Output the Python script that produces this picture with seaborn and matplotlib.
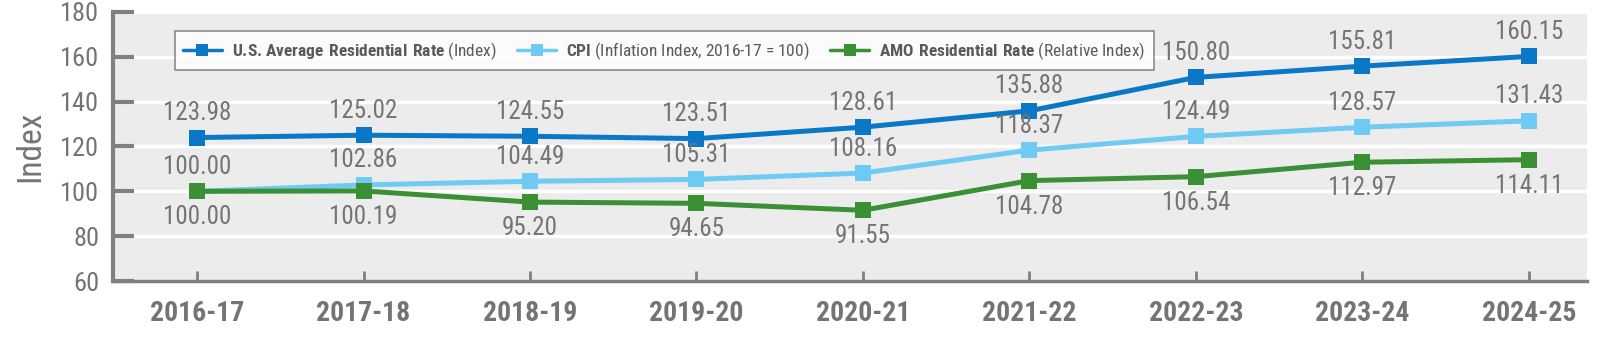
import matplotlib
matplotlib.use("Agg")
import matplotlib.pyplot as plt
import seaborn as sns
import pandas as pd
from matplotlib import font_manager

years = ["2016-17", "2017-18", "2018-19", "2019-20", "2020-21", "2021-22", "2022-23", "2023-24", "2024-25"]
us_rate = [123.98, 125.02, 124.55, 123.51, 128.61, 135.88, 150.80, 155.81, 160.15]
cpi = [100.00, 102.86, 104.49, 105.31, 108.16, 118.37, 124.49, 128.57, 131.43]
amo_rate = [100.00, 100.19, 95.20, 94.65, 91.55, 104.78, 106.54, 112.97, 114.11]
y_ticks = [60, 80, 100, 120, 140, 160, 180]

sns.set_theme(style="white")
names = {f.name for f in font_manager.fontManager.ttflist}
fam = "Roboto Condensed" if "Roboto Condensed" in names else "Roboto"
plt.rcParams['font.family'] = [fam, 'DejaVu Sans']
plt.rcParams['mathtext.fontset'] = 'custom'
plt.rcParams['mathtext.bf'] = f'{fam}:bold'
plt.rcParams['mathtext.rm'] = fam

GRAY = "#747474"
DARK = "#5a5a5a"
SPINE = "#808080"
BLUE = "#0a78c6"
LBLUE = "#6fcbf3"
GREEN = "#3b8f34"

fig = plt.figure(figsize=(16, 3.5), dpi=100)
ax = fig.add_axes([0.0706, 0.197, 0.9214, 0.769])
ax.set_facecolor("#ebeceb")

rows = []
series = [
    (r"$\bf{U.\!S.\!\!\ Average\ Residential\ Rate}$ (Index)", us_rate),
    (r"$\bf{CPI}$ (Inflation Index, 2016-17 = 100)", cpi),
    (r"$\bf{AMO\ Residential\ Rate}$ (Relative Index)", amo_rate),
]
for name, vals in series:
    for i, v in enumerate(vals):
        rows.append({"x": i, "value": v, "series": name})
df = pd.DataFrame(rows)
palette = {series[0][0]: BLUE, series[1][0]: LBLUE, series[2][0]: GREEN}

for y in y_ticks:
    ax.axhline(y, color="white", lw=2.5, zorder=0)

sns.lineplot(data=df, x="x", y="value", hue="series", palette=palette,
             marker="s", markersize=12, markeredgewidth=0, linewidth=3.6,
             ax=ax, zorder=3)

LBL = 18
for i, v in enumerate(us_rate):
    ax.annotate(f"{v:.2f}", (i, v), xytext=(0, 9), textcoords="offset points",
                ha="center", va="bottom", fontsize=LBL, color=GRAY)
for i, v in enumerate(cpi):
    ax.annotate(f"{v:.2f}", (i, v), xytext=(0, 9), textcoords="offset points",
                ha="center", va="bottom", fontsize=LBL, color=GRAY)
for i, v in enumerate(amo_rate):
    ax.annotate(f"{v:.2f}", (i, v), xytext=(0, -10), textcoords="offset points",
                ha="center", va="top", fontsize=LBL, color=GRAY)

ax.set_xlim(-0.505, 8.35)
ax.set_ylim(60, 180)
ax.set_yticks(y_ticks)
ax.set_xticks(range(len(years)))
ax.set_xticklabels(years, fontsize=20, fontweight="bold", color=GRAY)
ax.tick_params(axis="y", direction="in", length=15, width=3, color=SPINE,
               labelsize=19, labelcolor=GRAY, pad=10, left=True)
ax.tick_params(axis="x", direction="in", length=7, width=2, color=SPINE, pad=14, bottom=True)
ax.set_xlabel("")
ax.set_ylabel("Index", fontsize=24, color=GRAY, labelpad=10)

for s in ["top", "right"]:
    ax.spines[s].set_visible(False)
ax.spines["left"].set_color(SPINE)
ax.spines["left"].set_linewidth(3)
ax.spines["bottom"].set_color(SPINE)
ax.spines["bottom"].set_linewidth(2.5)

leg = ax.legend(loc="upper left", bbox_to_anchor=(0.036, 0.96), ncol=3, frameon=True,
                fancybox=False, fontsize=12.5, handlelength=2.2, columnspacing=1.2,
                handletextpad=0.6, borderpad=0.5, labelcolor=DARK)
leg.get_frame().set_edgecolor("#707070")
leg.get_frame().set_linewidth(1.2)
leg.get_frame().set_facecolor("white")
for line in leg.get_lines():
    line.set_markersize(9)
    line.set_linewidth(2.5)

fig.savefig("out.png", dpi=100)
